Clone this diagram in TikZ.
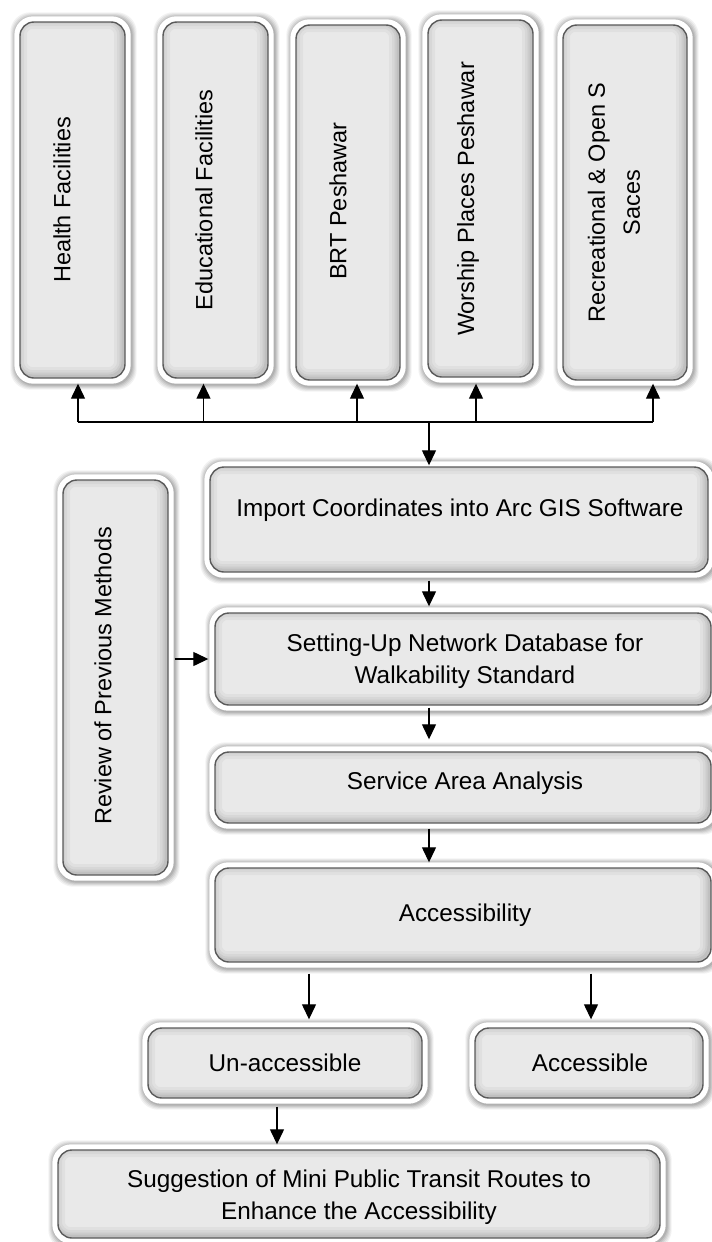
\documentclass[tikz,border=0pt]{standalone}
\usepackage{fontspec}
\setmainfont{Liberation Sans}
\newfontfamily\vfont{Liberation Sans}
\usetikzlibrary{arrows.meta,backgrounds,calc}

\definecolor{boxfill}{HTML}{E9E9E9}
\definecolor{boxline}{HTML}{5A5A5A}

\tikzset{
  box/.style={
    draw=boxline, line width=1.4pt, fill=boxfill,
    rounded corners=14pt, inner sep=0pt,
    path picture={
      \foreach \w/\o in {18/0.035,12/0.04,7/0.05,3/0.06}{
        \draw[line width=\w pt, black, opacity=\o, rounded corners=14pt]
          ([shift={(-2pt,2pt)}]path picture bounding box.south west)
          rectangle ([shift={(-2pt,2pt)}]path picture bounding box.north east);
      }
    }
  },
  vtext/.style={font=\vfont\fontsize{23.5}{35}\selectfont, rotate=90, align=center, inner sep=0pt},
  htext/.style={font=\fontsize{24.3}{31.5}\selectfont, align=center, inner sep=0pt},
  arr/.style={line width=1.3pt, -{Triangle[length=15pt,width=14pt]}},
  link/.style={line width=1.3pt}
}

% white rim with a soft shadow behind a box
\newcommand\rim[1]{%
  \begin{pgfonlayer}{background}
    \foreach \e/\o in {10/0.05,9/0.06,8/0.07,7/0.08,6/0.09}{
      \fill[black, opacity=\o, rounded corners=20pt]
        ([shift={(-\e pt+1pt,-\e pt-1pt)}]#1.south west)
        rectangle ([shift={(\e pt+1pt,\e pt-1pt)}]#1.north east);
    }
    \fill[white, rounded corners=19pt]
      ([shift={(-5pt,-5pt)}]#1.south west) rectangle ([shift={(5pt,5pt)}]#1.north east);
  \end{pgfonlayer}}

\begin{document}
\begin{tikzpicture}[x=1pt, y=-1pt]
\useasboundingbox (0,0) rectangle (712,1242);

% top row of data layers
\node[box, minimum width=105pt, minimum height=356pt] (health)  at (72.5,200) {};
\node[box, minimum width=105pt, minimum height=356pt] (edu)     at (215.5,200) {};
\node[box, minimum width=104pt, minimum height=355pt] (brt)     at (348,202.5) {};
\node[box, minimum width=105pt, minimum height=357pt] (worship) at (480.5,198.5) {};
\node[box, minimum width=124pt, minimum height=355pt] (recre)   at (625,202.5) {};
\foreach \n in {health,edu,brt,worship,recre}{\rim{\n}}

\node[vtext] (t-health)  at (62,200)    {Health Facilities};
\node[vtext] (t-edu)     at (204,200)   {Educational Facilities};
\node[vtext] (t-brt)     at (338,201)   {BRT Peshawar};
\node[vtext] (t-worship) at (468,199)   {Worship Places Peshawar};
\node[vtext] (t-recre)   at (614,202.5) {Recreational \& Open S\\Saces};

% processing chain
\node[box, minimum width=498pt, minimum height=105pt] (import)  at (459,519.5) {};
\node[box, minimum width=105pt, minimum height=395pt] (review)  at (115.5,677.5) {};
\node[box, minimum width=496pt, minimum height=92pt]  (setting) at (463,659) {};
\node[box, minimum width=496pt, minimum height=71pt]  (service) at (463,787.5) {};
\node[box, minimum width=496pt, minimum height=94pt]  (access)  at (463,915) {};
\node[box, minimum width=274pt, minimum height=70pt]  (unacc)   at (285,1063) {};
\node[box, minimum width=228pt, minimum height=70pt]  (acc)     at (589,1063) {};
\node[box, minimum width=602pt, minimum height=88pt]  (suggest) at (359,1194) {};
\foreach \n in {import,review,setting,service,access,unacc,acc,suggest}{\rim{\n}}

\node[htext] (t-import)  at (460,510)  {Import Coordinates into Arc GIS Software};
\node[vtext] (t-review)  at (103,676)  {Review of Previous Methods};
\node[htext] (t-setting) at (465,661)  {Setting-Up Network Database for\\Walkability Standard};
\node[htext] (t-service) at (465,783)  {Service Area Analysis};
\node[htext] (t-access)  at (465,915)  {Accessibility};
\node[htext] (t-unacc)   at (285,1063) {Un-accessible};
\node[htext] (t-acc)     at (590,1063) {Accessible};
\node[htext] (t-suggest) at (359,1197) {Suggestion of Mini Public Transit Routes to\\Enhance the Accessibility};

% distribution bus feeding the data layers
\coordinate (b1) at (78,422);
\coordinate (b2) at (203.5,422);
\coordinate (b3) at (357,422);
\coordinate (b4) at (476,422);
\coordinate (b5) at (653,422);
\coordinate (bc) at (429,422);
\draw[link] (b1) -- (b5);
\draw[arr, shorten >=5pt] (b1) -- (b1 |- health.south);
\draw[arr, shorten >=5pt] (b2) -- (b2 |- edu.south);
\draw[arr, shorten >=3pt] (b3) -- (b3 |- brt.south);
\draw[arr, shorten >=6pt] (b4) -- (b4 |- worship.south);
\draw[arr, shorten >=3pt] (b5) -- (b5 |- recre.south);
\draw[arr, shorten >=1pt] (bc) -- (bc |- import.north);

% flow through the analysis steps
\draw[arr, shorten <=8pt, shorten >=6pt] (bc |- import.south) -- (bc |- setting.north);
\draw[arr, shorten >=6pt] (review.east |- setting.west) ++(6pt,0) -- (setting.west);
\draw[arr, shorten <=2pt, shorten >=12pt] (bc |- setting.south) -- (bc |- service.north);
\draw[arr, shorten <=5pt, shorten >=5pt] (bc |- service.south) -- (bc |- access.north);

\coordinate (s1) at (309,0);
\coordinate (s2) at (591,0);
\coordinate (s3) at (277,0);
\draw[arr, shorten <=11pt, shorten >=8pt] (s1 |- access.south) -- (s1 |- unacc.north);
\draw[arr, shorten <=11pt, shorten >=8pt] (s2 |- access.south) -- (s2 |- acc.north);
\draw[arr, shorten <=8pt, shorten >=5pt] (s3 |- unacc.south) -- (s3 |- suggest.north);
\end{tikzpicture}
\end{document}
